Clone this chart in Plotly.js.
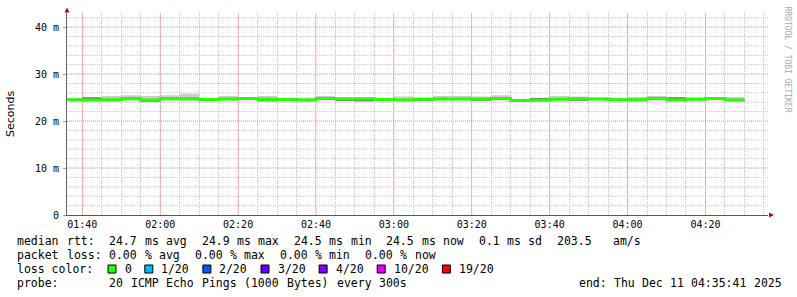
<!DOCTYPE html>
<html>
<head>
<meta charset="utf-8">
<script src="https://cdn.plot.ly/plotly-3.0.1.min.js"></script>
<style>
  html, body { margin: 0; padding: 0; background: #ffffff; }
  #chart { width: 797px; height: 297px; }
</style>
</head>
<body>
<div id="chart"></div>
<script>
// ---- data (values in milliseconds, 5-minute bins) ----
const day = '2025-12-11';
const binStarts = ['01:35','01:40','01:45','01:50','01:55','02:00','02:05','02:10','02:15','02:20',
  '02:25','02:30','02:35','02:40','02:45','02:50','02:55','03:00','03:05','03:10',
  '03:15','03:20','03:25','03:30','03:35','03:40','03:45','03:50','03:55','04:00',
  '04:05','04:10','04:15','04:20','04:25'];
const lastBinEnd = '04:30';
const median = [24.55,24.50,24.55,24.75,24.50,24.75,24.75,24.60,24.70,24.78,
  24.62,24.57,24.48,24.78,24.72,24.72,24.57,24.50,24.65,24.70,
  24.70,24.70,24.80,24.40,24.45,24.65,24.72,24.68,24.52,24.52,
  24.78,24.50,24.64,24.78,24.50];
const smokeMax = [24.90,25.05,25.35,25.50,25.35,25.50,25.80,24.90,25.35,24.95,
  25.35,24.90,24.95,25.35,25.00,25.00,24.90,25.20,25.00,25.35,
  25.35,25.20,25.50,24.65,24.95,25.35,25.20,25.00,24.95,25.10,
  25.35,25.10,25.00,25.00,25.10];
const smokeMin = [24.30,24.25,24.30,24.45,24.05,24.45,24.20,24.20,24.40,24.50,
  24.15,24.30,24.20,24.50,24.20,24.15,24.30,24.25,24.25,24.40,
  24.40,24.25,24.50,24.10,24.20,24.40,24.25,24.40,24.25,24.25,
  24.50,24.25,24.35,24.50,24.25];
const smokeQ1 = [24.35,24.30,24.35,24.55,24.10,24.55,24.55,24.40,24.50,24.58,
  24.22,24.37,24.28,24.58,24.25,24.22,24.37,24.30,24.25,24.50,
  24.50,24.30,24.60,24.20,24.25,24.45,24.30,24.48,24.32,24.32,
  24.58,24.30,24.44,24.58,24.30];
const smokeQ3 = [24.75,25.05,24.75,24.95,24.70,24.95,24.95,24.80,24.90,24.98,
  24.82,24.77,24.68,25.08,24.92,24.92,24.77,24.70,24.85,24.90,
  24.90,24.90,25.00,24.60,24.92,24.85,24.92,24.88,24.72,24.72,
  24.98,25.05,24.84,24.98,24.70];

const xTickTimes = ['01:40','02:00','02:20','02:40','03:00','03:20','03:40','04:00','04:20'];
const yTickVals = [0, 10, 20, 30, 40];
const yTickText = ['0', '10 m', '20 m', '30 m', '40 m'];
const yTitle = 'Seconds';
const watermark = 'RRDTOOL / TOBI OETIKER';

const statLines = [
  'median rtt:  24.7 ms avg  24.9 ms max  24.5 ms min  24.5 ms now  0.1 ms sd  203.5   am/s',
  'packet loss: 0.00 % avg  0.00 % max  0.00 % min  0.00 % now'
];
const lossTitle = 'loss color:';
const lossLabels = ['0', '1/20', '2/20', '3/20', '4/20', '10/20', '19/20'];
const lossColors = ['#26ff00', '#00b8ff', '#0059ff', '#5e00ff', '#7e00ff', '#dd00ff', '#ff0000'];
const probeLine = 'probe:       20 ICMP Echo Pings (1000 Bytes) every 300s';
const endLine = 'end: Thu Dec 11 04:35:41 2025';

// ---- build traces ----
const Y_MAX = 43;
const Y_MINOR_STEP = 2;
const xRange = [day + ' 01:36:04', day + ' 04:36:04'];
const xs = binStarts.map(t => day + ' ' + t).concat([day + ' ' + lastBinEnd]);
const ext = arr => arr.concat([arr[arr.length - 1]]);

function band(lo, hi, color) {
  return [
    { x: xs, y: ext(lo), type: 'scatter', mode: 'lines', line: { width: 0, shape: 'hv' },
      hoverinfo: 'skip', showlegend: false },
    { x: xs, y: ext(hi), type: 'scatter', mode: 'lines', line: { width: 0, shape: 'hv' },
      fill: 'tonexty', fillcolor: color, hoverinfo: 'skip', showlegend: false }
  ];
}

// horizontal grid as dotted helper traces (minor gray, major pink), below the data
function hGrid(levels, color) {
  const gx = [], gy = [];
  levels.forEach(v => { gx.push(xRange[0], xRange[1], null); gy.push(v, v, null); });
  return { x: gx, y: gy, type: 'scatter', mode: 'lines', hoverinfo: 'skip',
    showlegend: false, line: { color: color, width: 1, dash: '1px,1px' } };
}
const majorLevels = yTickVals.filter(v => v > 0);
const minorLevels = [];
for (let v = Y_MINOR_STEP; v < Y_MAX; v += Y_MINOR_STEP) {
  if (!yTickVals.includes(v)) minorLevels.push(v);
}

const traces = [hGrid(minorLevels, '#c4c4c4'), hGrid(majorLevels, '#e68080')]
  .concat(band(smokeMin, smokeMax, '#cccccc'))
  .concat(band(smokeQ1, smokeQ3, '#787878'))
  .concat([{ x: xs, y: ext(median), type: 'scatter', mode: 'lines',
    line: { width: 3, color: '#26ff00', shape: 'hv' }, showlegend: false }]);

// ---- layout helpers (pixel -> paper) ----
const W = 797, H = 297;
const L = 67, R = 29, T = 13, B = 82;
const PW = W - L - R, PH = H - T - B;
const px = v => (v - L) / PW;
const py = v => (H - B - v) / PH;

const mono = 'DejaVu Sans Mono, monospace';
const annotations = [];
const shapes = [];

function word(text, x, y, size, color) {
  annotations.push({ xref: 'paper', yref: 'paper', x: px(x), y: py(y), text: text,
    showarrow: false, xanchor: 'left', yanchor: 'middle', borderpad: 0,
    font: { family: mono, size: size || 11.5, color: color || '#000000' } });
}
function lineWords(str, x0, adv, y) {
  const re = /\S+/g; let m;
  while ((m = re.exec(str)) !== null) word(m[0], x0 + m.index * adv, y);
}

const ADV = 7.1, X0 = 16;
lineWords(statLines[0], X0, ADV, 241);
lineWords(statLines[1], X0, ADV, 255);
word(lossTitle, X0, 269);
let bx = 108;
lossLabels.forEach((lab, i) => {
  shapes.push({ type: 'rect', xref: 'paper', yref: 'paper',
    x0: px(bx), x1: px(bx + 8), y0: py(273), y1: py(265),
    fillcolor: lossColors[i], line: { color: '#000000', width: 1 } });
  word(lab, bx + 15.5, 269);
  bx = bx + 15.5 + (lab.length + 2) * ADV;
});
lineWords(probeLine, X0, ADV, 283);
lineWords(endLine, 578, 7.0, 283);

// y-axis title
annotations.push({ xref: 'paper', yref: 'paper', x: px(10), y: py(114), text: yTitle,
  textangle: -90, showarrow: false, xanchor: 'center', yanchor: 'middle',
  font: { family: 'DejaVu Sans, sans-serif', size: 11, color: '#000000' } });
// watermark
annotations.push({ xref: 'paper', yref: 'paper', x: px(786.5), y: py(59), text: watermark,
  textangle: 90, showarrow: false, xanchor: 'center', yanchor: 'middle',
  font: { family: mono, size: 8, color: '#aaaaaa' } });

// major vertical grid (pinkish dotted), above the minor grid, below the data
const majorGrid = '#eea0a0';
const minorGrid = '#c4c4c4';
const xTickVals = xTickTimes.map(t => day + ' ' + t);
xTickVals.forEach(v => shapes.push({ type: 'line', layer: 'between', xref: 'x', yref: 'paper',
  x0: v, x1: v, y0: 0, y1: 1, line: { color: majorGrid, width: 1, dash: '1px,1px' } }));

// arrows
const arrowColor = '#a01010';
shapes.push({ type: 'path', xref: 'paper', yref: 'paper', fillcolor: arrowColor,
  line: { width: 0 },
  path: `M ${px(67)} ${py(7.5)} L ${px(64.5)} ${py(12.5)} L ${px(69.5)} ${py(12.5)} Z` });
shapes.push({ type: 'path', xref: 'paper', yref: 'paper', fillcolor: arrowColor,
  line: { width: 0 },
  path: `M ${px(774)} ${py(215)} L ${px(769)} ${py(212.5)} L ${px(769)} ${py(217.5)} Z` });

const layout = {
  width: W, height: H,
  margin: { l: L, r: R, t: T, b: B, pad: 0 },
  paper_bgcolor: '#ffffff', plot_bgcolor: '#ffffff',
  showlegend: false,
  xaxis: {
    type: 'date',
    range: xRange,
    tickmode: 'array', tickvals: xTickVals,
    tickformat: '%H:%M',
    showgrid: false,
    minor: { dtick: 5 * 60 * 1000, tick0: day + ' 01:40', showgrid: true,
      gridcolor: minorGrid, griddash: '1px,1px', gridwidth: 1 },
    showline: true, linecolor: '#555555', linewidth: 1,
    zeroline: false, ticks: '',
    ticklabelstandoff: 0,
    tickfont: { family: mono, size: 10, color: '#000000' },
    fixedrange: true
  },
  yaxis: {
    range: [0, Y_MAX],
    tickvals: yTickVals, ticktext: yTickText,
    showgrid: false,
    showline: true, linecolor: '#666666', linewidth: 1,
    zeroline: false, ticks: 'outside', ticklen: 3, tickcolor: '#e68080',
    ticklabelstandoff: 2,
    tickfont: { family: mono, size: 10, color: '#000000' },
    fixedrange: true
  },
  annotations: annotations,
  shapes: shapes
};

Plotly.newPlot('chart', traces, layout, { displayModeBar: false, staticPlot: true });
</script>
</body>
</html>
